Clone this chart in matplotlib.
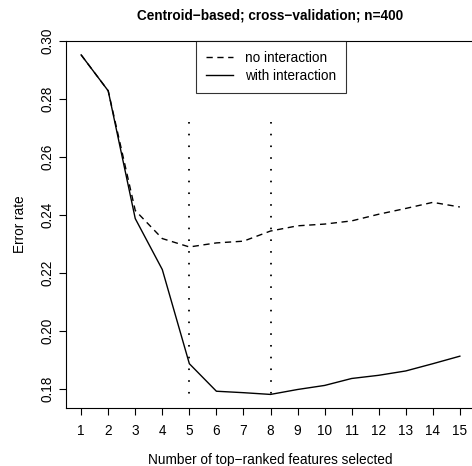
import matplotlib
matplotlib.use("Agg")
import matplotlib.pyplot as plt

plt.rcParams['font.family'] = ['Liberation Sans', 'DejaVu Sans']

features = list(range(1, 16))
no_interaction = [0.2952, 0.2828, 0.2415, 0.2318, 0.2289, 0.2303, 0.2309, 0.2344,
                  0.2362, 0.2368, 0.2379, 0.2402, 0.2422, 0.2443, 0.2427]
with_interaction = [0.2952, 0.2828, 0.2387, 0.2211, 0.1886, 0.1791, 0.1786, 0.1780,
                    0.1797, 0.1811, 0.1835, 0.1846, 0.1861, 0.1886, 0.1912]
vline_positions = [5, 8]
vline_top = 0.272
vline_bottom = 0.1758
yticks = [0.18, 0.20, 0.22, 0.24, 0.26, 0.28, 0.30]
title = "Centroid\u2212based; cross\u2212validation; n=400"

FS = 9.85
W, H = 472, 466
fig = plt.figure(figsize=(W / 100, H / 100), dpi=100)
ax = fig.add_axes([66 / W, (H - 408) / H, (475 - 66) / W, (408 - 41) / H])

ax.plot(features, no_interaction, color='black', lw=1.0, dashes=(4.5, 3.3),
        label='no interaction')
ax.plot(features, with_interaction, color='black', lw=1.0, label='with interaction')
for xv in vline_positions:
    ax.plot([xv, xv], [vline_top, vline_bottom], color='black', lw=1.3,
            dashes=(0.9, 5.6), dash_capstyle='butt')

ymin = min(with_interaction + no_interaction)
ymax = max(with_interaction + no_interaction)
r = ymax - ymin
ax.set_ylim(ymin - 0.04 * r, ymax + 0.04 * r)
ax.set_xlim(1 - 0.04 * 14, 15 + 0.04 * 14)

ax.set_xticks(features)
ax.set_xticklabels([str(f) for f in features])
ax.set_yticks(yticks)
ax.set_yticklabels([f"{v:.2f}" for v in yticks], rotation=90, va='center')
ax.tick_params(direction='out', length=5, width=0.8, labelsize=FS, pad=3)
ax.tick_params(axis='x', pad=6.8)
for s in ax.spines.values():
    s.set_linewidth(0.8)

ax.set_xlabel("Number of top\u2212ranked features selected", fontsize=FS, labelpad=10.2)
ax.set_ylabel("Error rate", fontsize=FS, labelpad=10.3)
fig.text(270 / W, 1 - 15 / H, title, ha='center', va='center',
         fontsize=FS, fontweight='bold')

leg = ax.legend(loc='upper center', bbox_to_anchor=(271 / W, 1 - 41 / H),
                bbox_transform=fig.transFigure, fontsize=FS, frameon=True,
                fancybox=False, borderaxespad=0, handlelength=2.0,
                borderpad=0.75, labelspacing=0.25, handletextpad=0.85)
leg.get_frame().set_edgecolor('black')
leg.get_frame().set_linewidth(0.8)

fig.savefig("out.png", dpi=100)
